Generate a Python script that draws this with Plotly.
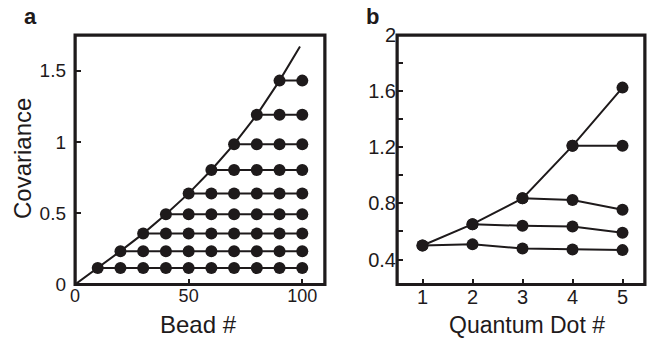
import plotly.graph_objects as go

# ---------------- data ----------------
# Panel a: covariance plateau rows; each row starts on the diagonal at bead = start
bead_starts = [10, 20, 30, 40, 50, 60, 70, 80, 90]
row_cov = [0.115, 0.234, 0.357, 0.493, 0.639, 0.803, 0.984, 1.19, 1.43]
bead_step = 10
bead_last = 100
diag_x = [0] + bead_starts + [99]
diag_y = [0.0] + row_cov + [1.67]

# Panel b: quantum dot covariance branches
qd_main_x = [1, 2, 3, 4, 5]
qd_main_y = [0.50, 0.652, 0.836, 1.21, 1.625]
qd_b4_x = [4, 5]
qd_b4_y = [1.21, 1.21]
qd_b3_x = [3, 4, 5]
qd_b3_y = [0.836, 0.824, 0.755]
qd_b2_x = [2, 3, 4, 5]
qd_b2_y = [0.652, 0.640, 0.635, 0.591]
qd_b1_x = [1, 2, 3, 4, 5]
qd_b1_y = [0.50, 0.508, 0.479, 0.472, 0.467]

a_xticks = [0, 50, 100]
a_yticks = [0, 0.5, 1, 1.5]
a_yticklabels = ["0", "0.5", "1", "1.5"]
b_xticks = [1, 2, 3, 4, 5]
b_yticks = [0.4, 0.6, 0.8, 1.0, 1.2, 1.4, 1.6, 1.8, 2.0]
b_yticklabels = ["0.4", "", "0.8", "", "1.2", "", "1.6", "", "2"]

# axis ranges
a_xrange = [0, 110]
a_yrange = [0, 1.75]
b_xrange = [0.49, 5.45]
b_yrange = [0.222, 2.0]

# ---------------- figure ----------------
W, H = 650, 341
INK = "#1e1a1b"
FONT = "Liberation Sans, Arial, sans-serif"


def px(x):
    return x / W


def py(y):
    return 1 - y / H


def box(xr, yr):
    return [xr[0], xr[1], xr[1], xr[0], xr[0]], [yr[0], yr[0], yr[1], yr[1], yr[0]]


fig = go.Figure()
line_style = dict(color=INK, width=2)
mk = dict(color=INK, size=12)

# frames drawn from the axis ranges (panel b first, then panel a)
for xr, yr, xa_, ya_ in [(b_xrange, b_yrange, "x2", "y2"), (a_xrange, a_yrange, "x", "y")]:
    bx, by = box(xr, yr)
    fig.add_trace(go.Scatter(x=bx, y=by, mode="lines", line=dict(color=INK, width=3),
                             xaxis=xa_, yaxis=ya_, cliponaxis=False,
                             showlegend=False, hoverinfo="skip"))

# Panel a diagonal
fig.add_trace(go.Scatter(x=diag_x, y=diag_y, mode="lines", line=line_style,
                         xaxis="x", yaxis="y", showlegend=False, hoverinfo="skip"))
# Panel a rows
for s, c in zip(bead_starts, row_cov):
    xs = list(range(s, bead_last + 1, bead_step))
    fig.add_trace(go.Scatter(x=xs, y=[c] * len(xs), mode="lines+markers",
                             line=line_style, marker=mk,
                             xaxis="x", yaxis="y", showlegend=False))

# Panel b
for xs, ys in [(qd_main_x, qd_main_y), (qd_b4_x, qd_b4_y), (qd_b3_x, qd_b3_y),
               (qd_b2_x, qd_b2_y), (qd_b1_x, qd_b1_y)]:
    fig.add_trace(go.Scatter(x=xs, y=ys, mode="lines+markers",
                             line=line_style, marker=mk,
                             xaxis="x2", yaxis="y2", showlegend=False))

axis_common = dict(showline=False, ticks="inside", ticklen=6, tickwidth=2,
                   tickcolor=INK, showgrid=False, zeroline=False,
                   automargin=False)

YB, YT = 284.5, 35
ydom = [py(YB), py(YT)]
xa = [75, 325]
xb = [397, 645]

# paper-coordinate frames (invisible dummy first, then b, then a)
shapes = [dict(type="line", xref="paper", yref="paper", x0=0, x1=0, y0=0, y1=0,
               line=dict(color="rgba(0,0,0,0)", width=0))]
for x0, x1 in (xb, xa):
    shapes.append(dict(type="rect", xref="paper", yref="paper", x0=px(x0), x1=px(x1),
                       y0=py(YB), y1=py(YT), line=dict(color=INK, width=3),
                       fillcolor="rgba(0,0,0,0)", layer="above"))

ann = dict(xref="paper", yref="paper", showarrow=False,
           xanchor="center", yanchor="middle")

fig.update_layout(
    width=W, height=H, autosize=False,
    margin=dict(l=0, r=0, t=0, b=0, pad=0, autoexpand=False),
    paper_bgcolor="white", plot_bgcolor="white",
    font=dict(family=FONT, color=INK),
    xaxis=dict(domain=[px(xa[0]), px(xa[1])], range=a_xrange, tickvals=a_xticks,
               tickfont=dict(size=18), anchor="y", ticklabelstandoff=-2,
               **axis_common),
    yaxis=dict(domain=ydom, range=a_yrange, tickvals=a_yticks,
               ticktext=a_yticklabels, tickfont=dict(size=19), anchor="x",
               ticklabelstandoff=8, **axis_common),
    xaxis2=dict(domain=[px(xb[0]), px(xb[1])], range=b_xrange, tickvals=b_xticks,
                tickfont=dict(size=20), anchor="y2", ticklabelstandoff=-2,
                **axis_common),
    yaxis2=dict(domain=ydom, range=b_yrange, tickvals=b_yticks,
                ticktext=b_yticklabels, tickfont=dict(size=20), anchor="x2",
                **axis_common),
    shapes=shapes,
    annotations=[
        dict(text="<b>a</b>", x=px(30), y=py(17), font=dict(size=22, color=INK), **ann),
        dict(text="<b>b</b>", x=px(372), y=py(17), font=dict(size=22, color=INK), **ann),
        dict(text="Bead #", x=px(198), y=py(324), font=dict(size=24, color=INK), **ann),
        dict(text="Covariance", x=px(22), y=py(159), textangle=-90,
             font=dict(size=24, color=INK), **ann),
        dict(text="Quantum Dot #", x=px(527), y=py(325), font=dict(size=23, color=INK), **ann),
    ],
)

fig.write_html("out.html")
